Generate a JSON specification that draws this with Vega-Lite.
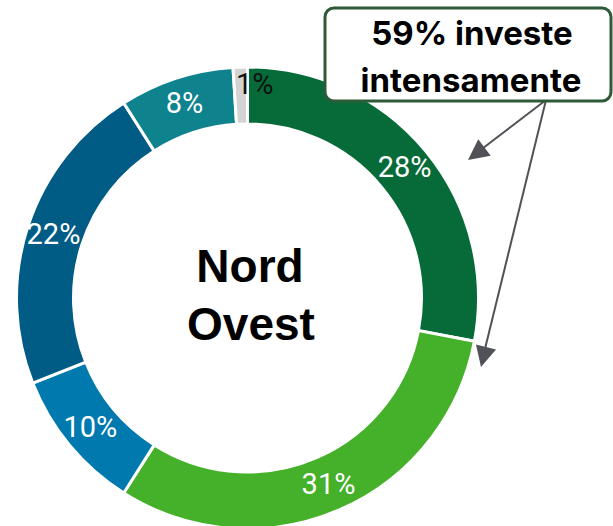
{
  "$schema": "https://vega.github.io/schema/vega-lite/v6.json",
  "width": 613,
  "height": 526,
  "autosize": {"type": "none"},
  "padding": 0,
  "background": "white",
  "config": {"view": {"stroke": null}},
  "data": {
    "values": [
      {"idx": 1, "cat": "A", "pct": 28},
      {"idx": 2, "cat": "B", "pct": 31},
      {"idx": 3, "cat": "C", "pct": 10},
      {"idx": 4, "cat": "D", "pct": 22},
      {"idx": 5, "cat": "E", "pct": 8},
      {"idx": 6, "cat": "F", "pct": 1}
    ]
  },
  "layer": [
    {
      "mark": {"type": "arc", "outerRadius": 231, "innerRadius": 174, "stroke": "white", "strokeWidth": 3},
      "encoding": {
        "x": {"datum": 247.5, "type": "quantitative", "scale": {"domain": [0, 613], "nice": false, "zero": false}, "axis": null},
        "y": {"datum": 298, "type": "quantitative", "scale": {"domain": [0, 526], "nice": false, "zero": false, "reverse": true}, "axis": null},
        "theta": {"field": "pct", "type": "quantitative", "stack": true},
        "order": {"field": "idx", "type": "quantitative"},
        "color": {"field": "cat", "type": "nominal", "legend": null,
          "scale": {"domain": ["A", "B", "C", "D", "E", "F"], "range": ["#066b38", "#45b02a", "#007aae", "#005c85", "#0e838e", "#d3d3d3"]}}
      }
    },
    {
      "mark": {"type": "text", "font": "Roboto", "fontSize": 29, "baseline": "middle", "align": "center", "color": "white", "radius": 204},
      "encoding": {
        "x": {"datum": 247.5, "type": "quantitative"},
        "y": {"datum": 298, "type": "quantitative"},
        "theta": {"field": "pct", "type": "quantitative", "stack": true},
        "order": {"field": "idx", "type": "quantitative"},
        "text": {"condition": {"test": "datum.pct >= 2", "field": "label"}, "value": ""}
      },
      "transform": [{"calculate": "datum.pct + '%'", "as": "label"}]
    },
    {
      "mark": {"type": "text", "font": "Roboto", "fontSize": 29, "baseline": "middle", "align": "center", "color": "#111111", "radius": 213, "dx": 14},
      "encoding": {
        "x": {"datum": 247.5, "type": "quantitative"},
        "y": {"datum": 298, "type": "quantitative"},
        "theta": {"field": "pct", "type": "quantitative", "stack": true},
        "order": {"field": "idx", "type": "quantitative"},
        "text": {"condition": {"test": "datum.pct < 2", "field": "label"}, "value": ""}
      },
      "transform": [{"calculate": "datum.pct + '%'", "as": "label"}]
    },
    {
      "data": {"values": [{"t": "Nord"}]},
      "mark": {"type": "text", "font": "Liberation Sans", "fontWeight": "bold", "fontSize": 46, "align": "center", "baseline": "alphabetic", "color": "black"},
      "encoding": {
        "x": {"datum": 250, "type": "quantitative"},
        "y": {"datum": 282, "type": "quantitative"},
        "text": {"field": "t"}
      }
    },
    {
      "data": {"values": [{"t": "Ovest"}]},
      "mark": {"type": "text", "font": "Liberation Sans", "fontWeight": "bold", "fontSize": 46, "align": "center", "baseline": "alphabetic", "color": "black"},
      "encoding": {
        "x": {"datum": 251, "type": "quantitative"},
        "y": {"datum": 340, "type": "quantitative"},
        "text": {"field": "t"}
      }
    },
    {
      "data": {"values": [{"a": 1}]},
      "mark": {"type": "rule", "color": "#505258", "strokeWidth": 2},
      "encoding": {
        "x": {"datum": 546, "type": "quantitative"},
        "y": {"datum": 100, "type": "quantitative"},
        "x2": {"datum": 474},
        "y2": {"datum": 155}
      }
    },
    {
      "data": {"values": [{"a": 1}]},
      "mark": {"type": "rule", "color": "#505258", "strokeWidth": 2},
      "encoding": {
        "x": {"datum": 546, "type": "quantitative"},
        "y": {"datum": 100, "type": "quantitative"},
        "x2": {"datum": 483},
        "y2": {"datum": 357}
      }
    },
    {
      "data": {"values": [{"a": 1}]},
      "mark": {"type": "point", "shape": "M0,0L0.5,1L-0.5,1Z", "filled": true, "opacity": 1, "color": "#505258", "size": 1700, "angle": 233},
      "encoding": {
        "x": {"datum": 468, "type": "quantitative"},
        "y": {"datum": 160, "type": "quantitative"}
      }
    },
    {
      "data": {"values": [{"a": 1}]},
      "mark": {"type": "point", "shape": "M0,0L0.5,1L-0.5,1Z", "filled": true, "opacity": 1, "color": "#505258", "size": 1700, "angle": 194},
      "encoding": {
        "x": {"datum": 481, "type": "quantitative"},
        "y": {"datum": 367, "type": "quantitative"}
      }
    },
    {
      "data": {"values": [{"a": 1}]},
      "mark": {"type": "rect", "fill": "white", "stroke": "#2f5a38", "strokeWidth": 3, "cornerRadius": 9},
      "encoding": {
        "x": {"datum": 325, "type": "quantitative"},
        "x2": {"datum": 611},
        "y": {"datum": 8, "type": "quantitative"},
        "y2": {"datum": 101}
      }
    },
    {
      "data": {"values": [{"t": "59% investe"}]},
      "mark": {"type": "text", "font": "Inter", "fontWeight": "bold", "fontSize": 33, "align": "center", "baseline": "alphabetic", "color": "black"},
      "encoding": {
        "x": {"datum": 472, "type": "quantitative"},
        "y": {"datum": 45, "type": "quantitative"},
        "text": {"field": "t"}
      }
    },
    {
      "data": {"values": [{"t": "intensamente"}]},
      "mark": {"type": "text", "font": "Inter", "fontWeight": "bold", "fontSize": 33, "align": "center", "baseline": "alphabetic", "color": "black"},
      "encoding": {
        "x": {"datum": 471, "type": "quantitative"},
        "y": {"datum": 92, "type": "quantitative"},
        "text": {"field": "t"}
      }
    }
  ]
}
